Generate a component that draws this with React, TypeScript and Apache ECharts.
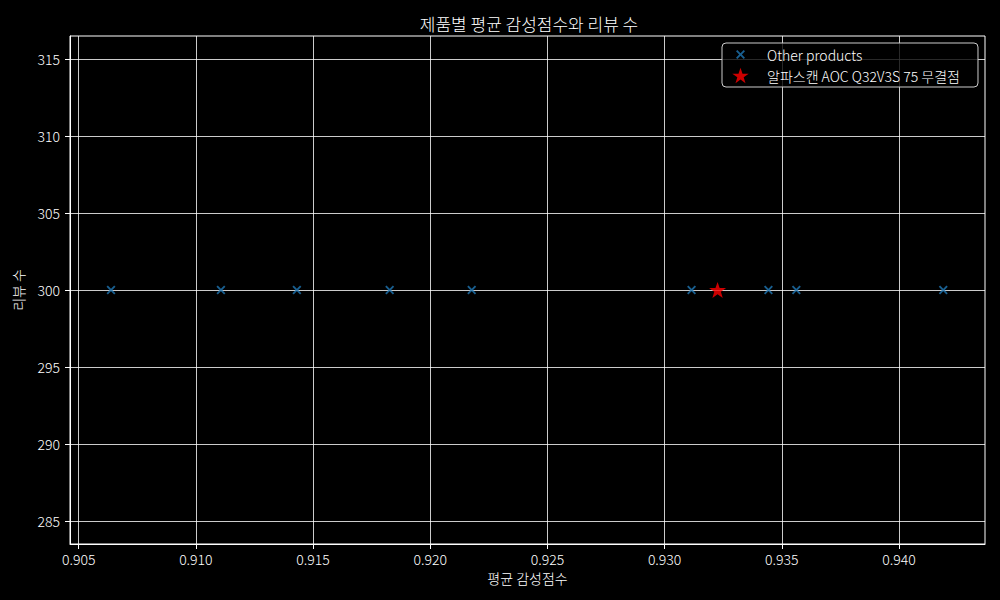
import React, { useEffect, useRef } from "react";
import * as echarts from "echarts";

const titleText = "제품별 평균 감성점수와 리뷰 수";
const xAxisName = "평균 감성점수";
const yAxisName = "리뷰 수";
const otherName = "Other products";
const highlightName = "알파스캔 AOC Q32V3S 75 무결점";

const otherScores = [0.90638, 0.91107, 0.91431, 0.91827, 0.92177, 0.93115, 0.93443, 0.93562, 0.94189];
const otherReviews = [300, 300, 300, 300, 300, 300, 300, 300, 300];
const highlightScores = [0.93226];
const highlightReviews = [300];

const xTicks = [0.905, 0.91, 0.915, 0.92, 0.925, 0.93, 0.935, 0.94];
const yTicks = [285, 290, 295, 300, 305, 310, 315];

const FONT = "'Noto Sans CJK KR', 'Noto Sans', sans-serif";
const WEIGHT = 300;

const crossPath =
  "path://M0,1.5 L1.5,0 L5,3.5 L8.5,0 L10,1.5 L6.5,5 L10,8.5 L8.5,10 L5,6.5 L1.5,10 L0,8.5 L3.5,5 Z";
const starPath =
  "path://M50,0 L61.8,35.1 L98.1,35.1 L68.7,56.7 L79.4,91.9 L50,70 L20.6,91.9 L31.3,56.7 L1.9,35.1 L38.2,35.1 Z";
const crossLegendPath =
  "path://M0,0 M30,17 M4,5.35 L5.35,4 L8.5,7.15 L11.65,4 L13,5.35 L9.85,8.5 L13,11.65 L11.65,13 L8.5,9.85 L5.35,13 L4,11.65 L7.15,8.5 Z";
const starLegendPath =
  "path://M0,0 M30,17 M8.5,0.7 L10.51,6.67 L16.68,6.67 L11.68,10.34 L13.5,16.32 L8.5,12.6 L3.5,16.32 L5.32,10.34 L0.32,6.67 L6.49,6.67 Z";

export default function App() {
  const ref = useRef<HTMLDivElement>(null);

  useEffect(() => {
    if (!ref.current) return;
    const chart = echarts.init(ref.current, undefined, { renderer: "svg" });
    const otherData = otherScores.map((s, i) => [s, otherReviews[i]]);
    const highlightData = highlightScores.map((s, i) => [s, highlightReviews[i]]);

    chart.setOption({
      animation: false,
      backgroundColor: "#000000",
      textStyle: { fontFamily: FONT },
      title: {
        text: titleText,
        left: 524,
        top: 10,
        textAlign: "center",
        textStyle: { color: "#ffffff", fontSize: 17, fontWeight: WEIGHT, fontFamily: FONT },
      },
      grid: {
        left: 70,
        right: 15,
        top: 36,
        bottom: 56,
        show: true,
        borderColor: "#ffffff",
        borderWidth: 1,
        backgroundColor: "transparent",
      },
      legend: {
        left: 722,
        top: 43,
        orient: "vertical",
        itemWidth: 30,
        itemHeight: 17,
        itemGap: 4,
        padding: [3, 18, 3, 10],
        borderColor: "#cccccc",
        borderWidth: 1,
        borderRadius: 4,
        backgroundColor: "rgba(0,0,0,0.8)",
        textStyle: { color: "#ffffff", fontSize: 14, fontWeight: WEIGHT, fontFamily: FONT },
        data: [
          { name: otherName, icon: crossLegendPath },
          { name: highlightName, icon: starLegendPath },
        ],
      },
      xAxis: {
        type: "value",
        min: 0.90463,
        max: 0.94367,
        name: xAxisName,
        nameLocation: "middle",
        nameGap: 26,
        nameTextStyle: { color: "#ffffff", fontSize: 14, fontWeight: WEIGHT, fontFamily: FONT },
        axisLine: { show: true, lineStyle: { color: "#ffffff", width: 1 } },
        axisTick: { show: true, inside: false, length: 5, lineStyle: { color: "#ffffff" }, customValues: xTicks },
        axisLabel: {
          color: "#ffffff",
          fontSize: 14,
          fontWeight: WEIGHT,
          margin: 8,
          fontFamily: FONT,
          customValues: xTicks,
          formatter: (v: number) => v.toFixed(3),
        },
        splitLine: { show: true, lineStyle: { color: "#ffffff", width: 0.8 } },
      },
      yAxis: {
        type: "value",
        min: 283.5,
        max: 316.5,
        name: yAxisName,
        nameLocation: "middle",
        nameGap: 45,
        nameRotate: 90,
        nameTextStyle: { color: "#ffffff", fontSize: 14, fontWeight: WEIGHT, fontFamily: FONT },
        axisLine: { show: true, lineStyle: { color: "#ffffff", width: 1 } },
        axisTick: { show: true, inside: false, length: 5, lineStyle: { color: "#ffffff" }, customValues: yTicks },
        axisLabel: {
          color: "#ffffff",
          fontSize: 14,
          fontWeight: WEIGHT,
          margin: 10,
          fontFamily: FONT,
          customValues: yTicks,
          formatter: (v: number) => String(Math.round(v)),
        },
        splitLine: { show: true, lineStyle: { color: "#ffffff", width: 0.8 } },
      },
      series: [
        {
          name: otherName,
          type: "scatter",
          data: otherData,
          symbol: crossPath,
          symbolSize: 9,
          itemStyle: { color: "#1f77b4" },
          z: 3,
        },
        {
          name: highlightName,
          type: "scatter",
          data: highlightData,
          symbol: starPath,
          symbolSize: [17, 16],
          itemStyle: { color: "#ff0000" },
          z: 4,
        },
      ],
    });
    return () => chart.dispose();
  }, []);

  return (
    <div
      ref={ref}
      style={{ position: "fixed", left: 0, top: 0, width: 1000, height: 600, background: "#000" }}
    />
  );
}
